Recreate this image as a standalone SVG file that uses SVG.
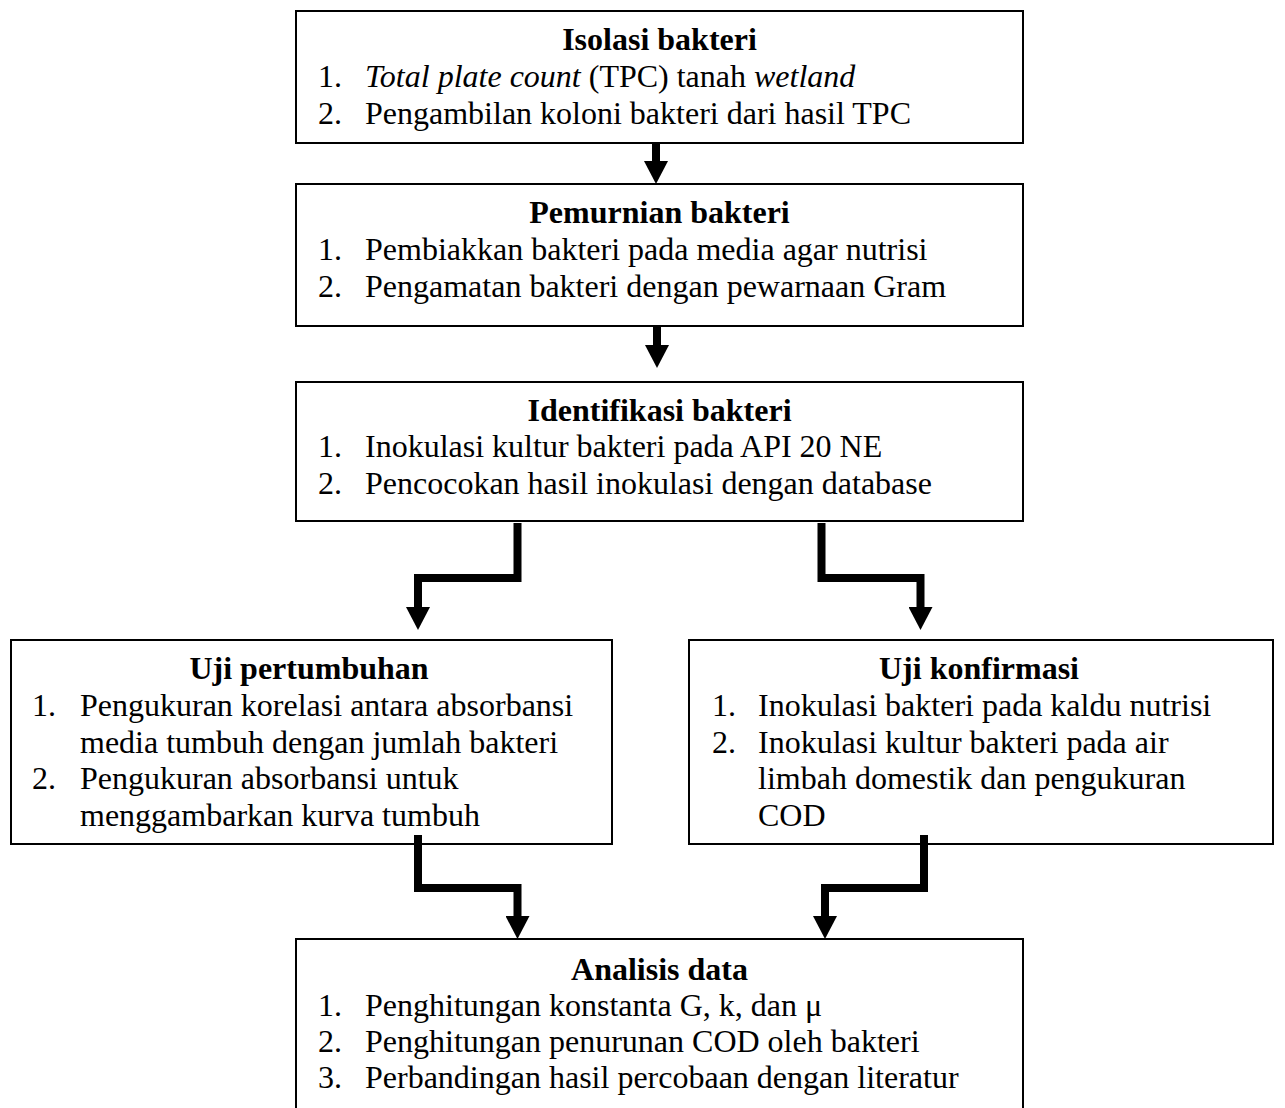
<svg xmlns="http://www.w3.org/2000/svg" width="1285" height="1108" viewBox="0 0 1285 1108">
<style>
text{font-family:"Liberation Serif","Times New Roman",serif;font-size:32px;fill:#000}
.t{font-weight:bold;text-anchor:middle}
.box{fill:#fff;stroke:#000;stroke-width:2}
.con{fill:none;stroke:#000;stroke-width:8;stroke-linejoin:miter}
</style>
<defs>
<marker id="ah" markerUnits="userSpaceOnUse" viewBox="0 0 23 24" markerWidth="23" markerHeight="24" refX="0" refY="12" orient="auto">
<path d="M0,0 L23,12 L0,24 z" fill="#000"/>
</marker>
</defs>
<rect width="1285" height="1108" fill="#fff"/>
<g id="n1">
<rect class="box" x="296" y="11" width="727" height="132"/>
<text class="t" x="659.5" y="50">Isolasi bakteri</text>
<text x="318" y="87">1.</text><text x="365" y="87"><tspan font-style="italic">Total plate count</tspan> (TPC) tanah <tspan font-style="italic">wetland</tspan></text>
<text x="318" y="124">2.</text><text x="365" y="124">Pengambilan koloni bakteri dari hasil TPC</text>
</g>
<g id="n2">
<rect class="box" x="296" y="184" width="727" height="142"/>
<text class="t" x="659.5" y="223">Pemurnian bakteri</text>
<text x="318" y="260">1.</text><text x="365" y="260">Pembiakkan bakteri pada media agar nutrisi</text>
<text x="318" y="297">2.</text><text x="365" y="297">Pengamatan bakteri dengan pewarnaan Gram</text>
</g>
<g id="n3">
<rect class="box" x="296" y="382" width="727" height="139"/>
<text class="t" x="659.5" y="421">Identifikasi bakteri</text>
<text x="318" y="457">1.</text><text x="365" y="457">Inokulasi kultur bakteri pada API 20 NE</text>
<text x="318" y="494">2.</text><text x="365" y="494">Pencocokan hasil inokulasi dengan database</text>
</g>
<g id="n4">
<rect class="box" x="11" y="640" width="601" height="204"/>
<text class="t" x="309" y="679">Uji pertumbuhan</text>
<text x="32" y="716">1.</text><text x="80" y="716">Pengukuran korelasi antara absorbansi</text>
<text x="80" y="753">media tumbuh dengan jumlah bakteri</text>
<text x="32" y="789">2.</text><text x="80" y="789">Pengukuran absorbansi untuk</text>
<text x="80" y="826">menggambarkan kurva tumbuh</text>
</g>
<g id="n5">
<rect class="box" x="689" y="640" width="584" height="204"/>
<text class="t" x="979" y="679">Uji konfirmasi</text>
<text x="712" y="716">1.</text><text x="758" y="716">Inokulasi bakteri pada kaldu nutrisi</text>
<text x="712" y="753">2.</text><text x="758" y="753">Inokulasi kultur bakteri pada air</text>
<text x="758" y="789">limbah domestik dan pengukuran</text>
<text x="758" y="826">COD</text>
</g>
<g id="n6">
<path class="box" d="M296,1110 V939 H1023 V1110"/>
<text class="t" x="659.5" y="980">Analisis data</text>
<text x="318" y="1016">1.</text><text x="365" y="1016">Penghitungan konstanta G, k, dan μ</text>
<text x="318" y="1052">2.</text><text x="365" y="1052">Penghitungan penurunan COD oleh bakteri</text>
<text x="318" y="1088">3.</text><text x="365" y="1088">Perbandingan hasil percobaan dengan literatur</text>
</g>
<g id="connectors">
<path class="con" d="M656,143 V161" marker-end="url(#ah)"/>
<path class="con" d="M657,326 V345" marker-end="url(#ah)"/>
<path class="con" d="M517.5,523 V578 H418 V607" marker-end="url(#ah)"/>
<path class="con" d="M821.5,523 V578 H920.5 V607" marker-end="url(#ah)"/>
<path class="con" d="M418,835 V888 H517.5 V916" marker-end="url(#ah)"/>
<path class="con" d="M924,835 V888 H825 V916" marker-end="url(#ah)"/>
</g>
</svg>
